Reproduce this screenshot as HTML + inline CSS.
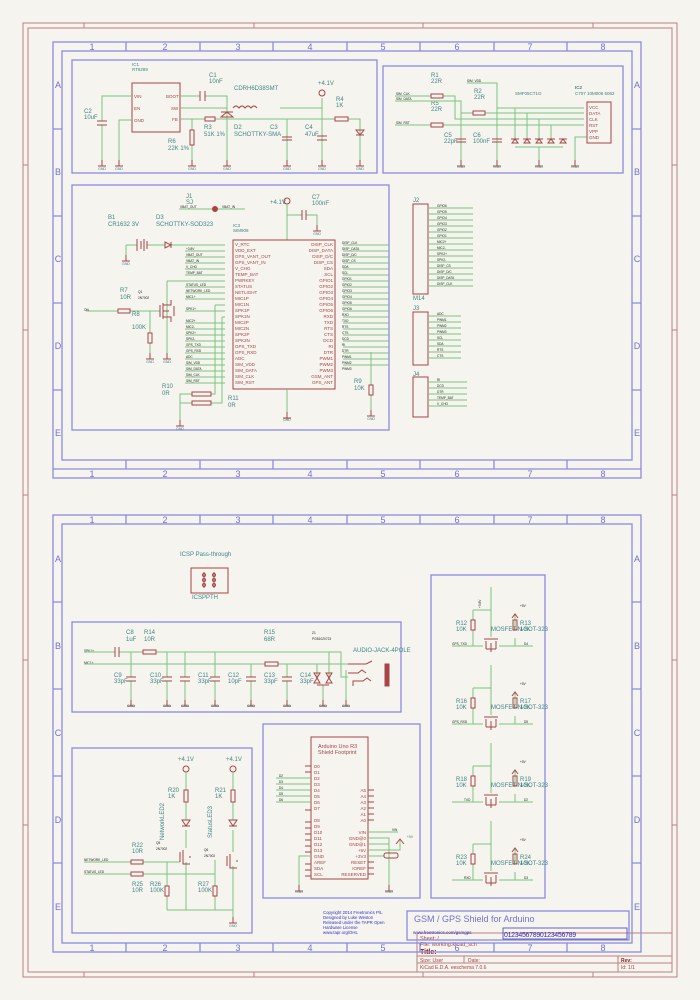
<!DOCTYPE html>
<html><head><meta charset="utf-8"><style>
html,body{margin:0;padding:0;background:#f5f4ef;}
svg{display:block;font-family:"Liberation Sans",sans-serif;}
.w{stroke:#7cc47c;stroke-width:1;fill:none}
.r{stroke:#a84444;stroke-width:1;fill:none}
.rf{stroke:#a84444;fill:#a84444}
.pf{stroke:#c08080;stroke-width:1;fill:none}
.b{stroke:#8a8ae2;stroke-width:1.3;fill:none}
.bt{fill:#7070d0;font-size:9px;text-anchor:middle}
.t{fill:#3f8585;font-size:6px}
.s{fill:#222;font-size:3.2px}
.g{fill:#3f8585;font-size:3.5px;text-anchor:middle}
.p{fill:#a84444;font-size:4.5px}
.ic{fill:#3f7f7f;font-size:4.5px}
</style></head><body>
<svg width="700" height="1000" viewBox="0 0 700 1000" xmlns="http://www.w3.org/2000/svg">
<defs>
<symbol id="gnd" overflow="visible"><path d="M0,0V6M-4,6H4" stroke="#a84444" stroke-width="1"/></symbol>
</defs>
<!-- page frame -->
<rect class="pf" x="23" y="23" width="654" height="954"/>
<rect class="pf" x="28" y="28" width="644" height="944"/>
<path class="pf" d="M84,23v5M254,23v5M423,23v5M593,23v5M23,165h5M23,330h5M23,495h5M23,660h5M23,825h5M672,165h5M672,330h5M672,495h5M672,660h5M672,825h5M84,972v5M254,972v5M423,972v5M593,972v5"/>
<!-- title block -->
<path class="pf" d="M417,933H672M417,956H672M417,963H672M417,933V972M464,956V963M618,956V972"/>
<text x="420" y="940" fill="#a84444" font-size="5.5">Sheet: /</text>
<text x="420" y="946" fill="#a84444" font-size="5.5">File: working.kicad_sch</text>
<text x="420" y="954" fill="#8a2020" font-size="7" font-weight="bold">Title:</text>
<text x="420" y="962" fill="#a84444" font-size="5">Size: User</text>
<text x="468" y="962" fill="#a84444" font-size="5">Date:</text>
<text x="621" y="962" fill="#8a2020" font-size="5" font-weight="bold">Rev:</text>
<text x="420" y="969" fill="#a84444" font-size="5">KiCad E.D.A.  eeschema 7.0.6</text>
<text x="621" y="969" fill="#a84444" font-size="5">Id: 1/1</text>

<!-- FRAME 1 -->
<rect class="b" x="53" y="42" width="588" height="436"/>
<rect class="b" x="62" y="51" width="570" height="409"/>
<path class="b" d="M126,42v9M200,42v9M273,42v9M347,42v9M420,42v9M494,42v9M567,42v9M126,460v9M200,460v9M273,460v9M347,460v9M420,460v9M494,460v9M567,460v9M53,129h9M53,216h9M53,303h9M53,390h9M632,129h9M632,216h9M632,303h9M632,390h9"/>
<path class="b" d="M53,469H641"/>
<text class="bt" x="92" y="50">1</text><text class="bt" x="165" y="50">2</text><text class="bt" x="238" y="50">3</text><text class="bt" x="310" y="50">4</text><text class="bt" x="383" y="50">5</text><text class="bt" x="457" y="50">6</text><text class="bt" x="530" y="50">7</text><text class="bt" x="603" y="50">8</text>
<text class="bt" x="92" y="477">1</text><text class="bt" x="165" y="477">2</text><text class="bt" x="238" y="477">3</text><text class="bt" x="310" y="477">4</text><text class="bt" x="383" y="477">5</text><text class="bt" x="457" y="477">6</text><text class="bt" x="530" y="477">7</text><text class="bt" x="603" y="477">8</text>
<text class="bt" x="58" y="88">A</text><text class="bt" x="58" y="175">B</text><text class="bt" x="58" y="262">C</text><text class="bt" x="58" y="349">D</text><text class="bt" x="58" y="436">E</text>
<text class="bt" x="637" y="88">A</text><text class="bt" x="637" y="175">B</text><text class="bt" x="637" y="262">C</text><text class="bt" x="637" y="349">D</text><text class="bt" x="637" y="436">E</text>

<!-- Box A -->
<rect class="b" x="72" y="60" width="305" height="113"/>
<rect class="r" x="132" y="83" width="48" height="49"/>
<text class="ic" x="132" y="66" font-size="4">IC1</text><text class="ic" x="132" y="71" font-size="4">RT8289</text>
<text class="p" x="134" y="98">VIN</text><text class="p" x="134" y="110">EN</text><text class="p" x="134" y="122">GND</text>
<text class="p" x="166" y="98">BOOT</text><text class="p" x="171" y="110">SW</text><text class="p" x="172" y="121">FB</text>
<path class="w" d="M132,96H102V121M102,125V160M132,120H119V160M180,96H200M205,96H227V160M180,108H227M280,108H322V160M180,119H205M215,119H335M348,119H360V160M192,119V130M192,145V160M287,119V160M322,98V108"/>
<path class="r" d="M97,121h10M97,125h10M200,91v10M205,91v10M221,117l6,-5 6,5zM221,112h12"/>
<rect class="r" x="205" y="117" width="10" height="4"/><rect class="r" x="335" y="117" width="13" height="4"/><rect class="r" x="190" y="130" width="4" height="15"/>
<path class="r" d="M233,108q3,-4 6,0q3,-4 6,0q3,-4 6,0q3,-4 6,0"/>
<path class="r" d="M282,137h10M282,140h10M317,136h10M317,140h10M356,130h8l-4,5zM356,135h8" stroke-width="1.5"/>
<circle class="r" cx="322" cy="93" r="3"/>
<use href="#gnd" x="102" y="160"/><use href="#gnd" x="119" y="160"/><use href="#gnd" x="192" y="160"/><use href="#gnd" x="227" y="160"/><use href="#gnd" x="287" y="160"/><use href="#gnd" x="322" y="160"/><use href="#gnd" x="360" y="160"/>
<text class="g" x="102" y="170">GND</text><text class="g" x="119" y="170">GND</text><text class="g" x="192" y="170">GND</text><text class="g" x="227" y="170">GND</text><text class="g" x="287" y="170">GND</text><text class="g" x="322" y="170">GND</text><text class="g" x="360" y="170">GND</text>
<text class="t" x="84" y="113">C2</text><text class="t" x="84" y="119">10uF</text>
<text class="t" x="209" y="77">C1</text><text class="t" x="209" y="83">10nF</text>
<text class="t" x="234" y="90">CDRH6D38SMT</text>
<text class="t" x="318" y="85">+4.1V</text>
<text class="t" x="336" y="101">R4</text><text class="t" x="336" y="107">1K</text>
<text class="t" x="204" y="129">R3</text><text class="t" x="204" y="136">51K 1%</text>
<text class="t" x="234" y="129">D2</text><text class="t" x="234" y="136">SCHOTTKY-SMA</text>
<text class="t" x="270" y="129">C3</text><text class="t" x="305" y="129">C4</text><text class="t" x="305" y="136">47uF</text>
<text class="t" x="168" y="143">R6</text><text class="t" x="168" y="150">22K 1%</text>

<!-- Box B -->
<rect class="b" x="383" y="66" width="240" height="107"/>
<text class="t" x="431" y="77">R1</text><text class="t" x="431" y="83">22R</text>
<text class="t" x="474" y="93">R2</text><text class="t" x="474" y="99">22R</text>
<text class="t" x="431" y="105">R5</text><text class="t" x="431" y="111">22R</text>
<text class="t" x="444" y="137">C5</text><text class="t" x="444" y="143">22pF</text>
<text class="t" x="473" y="137">C6</text><text class="t" x="473" y="143">100nF</text>
<text class="ic" x="515" y="95" font-size="4">SMF05CT1G</text>
<text class="ic" x="575" y="89" font-size="4" font-weight="bold">IC2</text><text class="ic" x="575" y="95" font-size="4">C707 10M006 5062</text>
<text class="s" x="396" y="95">SIM_CLK</text><text class="s" x="396" y="100">SIM_DATA</text><text class="s" x="396" y="124">SIM_RST</text><text class="s" x="467" y="82">SIM_VDD</text>
<path class="w" d="M395,96H431M443,96H455V119H584M395,101H461V160M461,113H473M485,113H584M395,125H431M443,125H584M467,83H497V160M497,108H584M515,108V140M527,113V140M539,119V140M551,125V140M587,137H575V160M515,147H563M539,147V160"/>
<rect class="r" x="431" y="94" width="12" height="4"/><rect class="r" x="431" y="123" width="12" height="4"/><rect class="r" x="473" y="111" width="12" height="4"/>
<path class="r" d="M456,139h10M456,142h10M492,139h10M492,142h10" stroke-width="1.5"/>
<path class="r" d="M512,143l3,-4 3,4zM524,143l3,-4 3,4zM536,143l3,-4 3,4zM548,143l3,-4 3,4zM560,143l3,-4 3,4zM511,139h8M523,139h8M535,139h8M547,139h8M559,139h8"/>
<rect class="r" x="587" y="102" width="24" height="41"/>
<text class="p" x="589" y="109">VCC</text><text class="p" x="589" y="115">DATA</text><text class="p" x="589" y="121">CLK</text><text class="p" x="589" y="127">RST</text><text class="p" x="589" y="133">VPP</text><text class="p" x="589" y="139">GND</text>
<use href="#gnd" x="461" y="160"/><use href="#gnd" x="497" y="160"/><use href="#gnd" x="539" y="160"/><use href="#gnd" x="575" y="160"/>
<text class="g" x="461" y="168">GND</text><text class="g" x="497" y="168">GND</text><text class="g" x="539" y="168">GND</text><text class="g" x="575" y="168">GND</text>

<!-- J2 J3 J4 -->
<text class="t" x="413" y="202">J2</text><text class="t" x="413" y="300">M14</text>
<rect class="r" x="413" y="204" width="15" height="90"/>
<path class="w" d="M428,208H473M428,214H473M428,220H473M428,226H473M428,232H473M428,238H473M428,244H473M428,250H473M428,256H473M428,262H473M428,268H473M428,274H473M428,280H473M428,286H473"/>
<text class="s" x="437" y="207">GPIO6</text><text class="s" x="437" y="213">GPIO5</text><text class="s" x="437" y="219">GPIO4</text><text class="s" x="437" y="225">GPIO3</text><text class="s" x="437" y="231">GPIO2</text><text class="s" x="437" y="237">GPIO1</text><text class="s" x="437" y="243">MIC2+</text><text class="s" x="437" y="249">MIC2-</text><text class="s" x="437" y="255">SPK2+</text><text class="s" x="437" y="261">SPK2-</text><text class="s" x="437" y="267">DISP_CS</text><text class="s" x="437" y="273">DISP_D/C</text><text class="s" x="437" y="279">DISP_DATA</text><text class="s" x="437" y="285">DISP_CLK</text>
<text class="t" x="413" y="310">J3</text>
<rect class="r" x="413" y="312" width="15" height="53"/>
<path class="w" d="M428,316H461M428,322H461M428,328H461M428,334H461M428,340H461M428,346H461M428,352H461M428,358H461"/>
<text class="s" x="437" y="315">ADC</text><text class="s" x="437" y="321">PWM1</text><text class="s" x="437" y="327">PWM2</text><text class="s" x="437" y="333">PWM3</text><text class="s" x="437" y="339">SCL</text><text class="s" x="437" y="345">SDA</text><text class="s" x="437" y="351">RTS</text><text class="s" x="437" y="357">CTS</text>
<text class="t" x="413" y="376">J4</text>
<rect class="r" x="413" y="377" width="15" height="40"/>
<path class="w" d="M428,382H467M428,388H467M428,394H467M428,400H467M428,406H467"/>
<text class="s" x="437" y="381">RI</text><text class="s" x="437" y="387">DCD</text><text class="s" x="437" y="393">DTR</text><text class="s" x="437" y="399">TEMP_BAT</text><text class="s" x="437" y="405">V_CHG</text>

<!-- Box C -->
<rect class="b" x="72" y="185" width="317" height="245"/>
<text class="t" x="186" y="198">J1</text><text class="t" x="186" y="204">SJ</text>
<path class="w" d="M179,209H213M218,209H245"/><circle class="rf" cx="215" cy="209" r="2.5"/>
<text class="s" x="180" y="208">VBAT_OUT</text><text class="s" x="222" y="208">VBAT_IN</text>
<text class="t" x="108" y="219">B1</text><text class="t" x="108" y="226">CR1632 3V</text>
<text class="t" x="156" y="219">D3</text><text class="t" x="156" y="226">SCHOTTKY-SOD323</text>
<text class="t" x="270" y="204">+4.1V</text><circle class="r" cx="287" cy="201" r="3"/>
<text class="t" x="312" y="199">C7</text><text class="t" x="312" y="205">100nF</text>
<path class="w" d="M287,204V240M287,215H302M306,215H317V225"/><path class="r" d="M302,210v10M306,210v10" stroke-width="1.5"/>
<use href="#gnd" x="317" y="225"/><text class="g" x="317" y="235">GND</text>
<text class="ic" x="233" y="227" font-size="4">IC3</text><text class="ic" x="233" y="232" font-size="4">SIM908</text>
<rect class="r" x="233" y="240" width="102" height="149"/>
<path class="w" d="M126,245V255M126,245H137M147,245H165M171,245H225M185,251H225M185,257H225M185,263H225M185,269H225M185,275H225M167,281H225M167,281V353M185,287H225M185,293H225M185,299H225M215,305H225M215,305V394H211M185,311H225M222,317H225M222,317V403H211M185,323H225M185,329H225M185,335H225M185,341H225M185,347H225M185,353H225M185,359H225M185,365H225M185,371H225M185,377H225M185,383H225M192,394H180V420M192,403H180M86,311H118M130,311H150V333M150,311H160M150,343V353M287,389V420M343,245H389M343,251H389M343,257H389M343,263H389M343,269H389M343,275H389M343,281H389M343,287H389M343,293H389M343,299H389M343,305H389M343,311H389M343,317H389M343,323H389M343,329H389M343,335H389M343,341H389M343,347H389M343,353H389M343,359H389M343,365H389M371,352V385M371,395V410"/>
<path class="r" d="M137,239v12M141,241v8M144,239v12M147,241v8M165,242v6l6,-3zM171,242v6" stroke-width="1.3"/>
<rect class="r" x="118" y="309" width="12" height="4"/><rect class="r" x="148" y="333" width="4" height="10"/><rect class="r" x="192" y="392" width="19" height="4"/><rect class="r" x="192" y="401" width="19" height="4"/><rect class="r" x="369" y="385" width="4" height="10"/>
<path class="r" d="M160,305v12M163,303v16M163,311h6M163,305h8v-5M163,317h8v5M174,306v10"/>
<use href="#gnd" x="126" y="255"/><use href="#gnd" x="150" y="353"/><use href="#gnd" x="167" y="353"/><use href="#gnd" x="180" y="420"/><use href="#gnd" x="287" y="412"/><use href="#gnd" x="371" y="410"/>
<text class="g" x="126" y="265">GND</text><text class="g" x="150" y="363">GND</text><text class="g" x="167" y="363">GND</text><text class="g" x="180" y="430">GND</text><text class="g" x="287" y="421">GND</text><text class="g" x="371" y="420">GND</text>
<text class="s" x="84" y="311">ON</text>
<text class="t" x="120" y="292">R7</text><text class="t" x="120" y="299">10R</text>
<text class="t" x="132" y="316">R8</text><text class="t" x="132" y="329">100K</text>
<text class="s" x="138" y="293">Q1</text><text class="s" x="138" y="299">2N7002</text>
<text class="t" x="162" y="388">R10</text><text class="t" x="162" y="395">0R</text>
<text class="t" x="228" y="400">R11</text><text class="t" x="228" y="407">0R</text>
<text class="t" x="354" y="383">R9</text><text class="t" x="354" y="390">10K</text>
<g class="s">
<text x="186" y="250">+3.8V</text><text x="186" y="256">VBAT_OUT</text><text x="186" y="262">VBAT_IN</text><text x="186" y="268">V_CHG</text><text x="186" y="274">TEMP_BAT</text><text x="186" y="286">STATUS_LED</text><text x="186" y="292">NETWORK_LED</text><text x="186" y="298">MIC1+</text><text x="186" y="310">SPK1+</text><text x="186" y="322">MIC2+</text><text x="186" y="328">MIC2-</text><text x="186" y="334">SPK2+</text><text x="186" y="340">SPK2-</text><text x="186" y="346">GPS_TXD</text><text x="186" y="352">GPS_RXD</text><text x="186" y="358">ADC</text><text x="186" y="364">SIM_VDD</text><text x="186" y="370">SIM_DATA</text><text x="186" y="376">SIM_CLK</text><text x="186" y="382">SIM_RST</text>
<text x="342" y="244">DISP_CLK</text><text x="342" y="250">DISP_DATA</text><text x="342" y="256">DISP_D/C</text><text x="342" y="262">DISP_CS</text><text x="342" y="268">SDA</text><text x="342" y="274">SCL</text><text x="342" y="280">GPIO1</text><text x="342" y="286">GPIO2</text><text x="342" y="292">GPIO3</text><text x="342" y="298">GPIO4</text><text x="342" y="304">GPIO5</text><text x="342" y="310">GPIO6</text><text x="342" y="316">RXD</text><text x="342" y="322">TXD</text><text x="342" y="328">RTS</text><text x="342" y="334">CTS</text><text x="342" y="340">DCD</text><text x="342" y="346">RI</text><text x="342" y="352">DTR</text><text x="342" y="358">PWM1</text><text x="342" y="364">PWM2</text><text x="342" y="370">PWM3</text>
</g>
<g class="p" font-size="4.2">
<text x="235" y="246">V_RTC</text><text x="235" y="252">VDD_EXT</text><text x="235" y="258">GPS_VANT_OUT</text><text x="235" y="264">GPS_VANT_IN</text><text x="235" y="270">V_CHG</text><text x="235" y="276">TEMP_BAT</text><text x="235" y="282">PWRKEY</text><text x="235" y="288">STATUS</text><text x="235" y="294">NETLIGHT</text><text x="235" y="300">MIC1P</text><text x="235" y="306">MIC1N</text><text x="235" y="312">SPK1P</text><text x="235" y="318">SPK1N</text><text x="235" y="324">MIC2P</text><text x="235" y="330">MIC2N</text><text x="235" y="336">SPK2P</text><text x="235" y="342">SPK2N</text><text x="235" y="348">GPS_TXD</text><text x="235" y="354">GPS_RXD</text><text x="235" y="360">ADC</text><text x="235" y="366">SIM_VDD</text><text x="235" y="372">SIM_DATA</text><text x="235" y="378">SIM_CLK</text><text x="235" y="384">SIM_RST</text>
</g>
<g class="p" font-size="4.2" text-anchor="end">
<text x="333" y="246">DISP_CLK</text><text x="333" y="252">DISP_DATA</text><text x="333" y="258">DISP_D/C</text><text x="333" y="264">DISP_CS</text><text x="333" y="270">SDA</text><text x="333" y="276">SCL</text><text x="333" y="282">GPIO1</text><text x="333" y="288">GPIO2</text><text x="333" y="294">GPIO3</text><text x="333" y="300">GPIO4</text><text x="333" y="306">GPIO5</text><text x="333" y="312">GPIO6</text><text x="333" y="318">RXD</text><text x="333" y="324">TXD</text><text x="333" y="330">RTS</text><text x="333" y="336">CTS</text><text x="333" y="342">DCD</text><text x="333" y="348">RI</text><text x="333" y="354">DTR</text><text x="333" y="360">PWM1</text><text x="333" y="366">PWM2</text><text x="333" y="372">PWM3</text><text x="333" y="378">GSM_ANT</text><text x="333" y="384">GPS_ANT</text>
</g>

<!-- FRAME 2 -->
<rect class="b" x="53" y="515" width="588" height="437"/>
<rect class="b" x="62" y="524" width="570" height="419"/>
<path class="b" d="M126,515v9M200,515v9M273,515v9M347,515v9M420,515v9M494,515v9M567,515v9M126,943v9M200,943v9M273,943v9M347,943v9M420,943v9M494,943v9M567,943v9M53,602h9M53,689h9M53,776h9M53,863h9M632,602h9M632,689h9M632,776h9M632,863h9"/>
<text class="bt" x="92" y="523">1</text><text class="bt" x="165" y="523">2</text><text class="bt" x="238" y="523">3</text><text class="bt" x="310" y="523">4</text><text class="bt" x="383" y="523">5</text><text class="bt" x="457" y="523">6</text><text class="bt" x="530" y="523">7</text><text class="bt" x="603" y="523">8</text>
<text class="bt" x="92" y="951">1</text><text class="bt" x="165" y="951">2</text><text class="bt" x="238" y="951">3</text><text class="bt" x="310" y="951">4</text><text class="bt" x="383" y="951">5</text><text class="bt" x="457" y="951">6</text><text class="bt" x="530" y="951">7</text><text class="bt" x="603" y="951">8</text>
<text class="bt" x="58" y="562">A</text><text class="bt" x="58" y="649">B</text><text class="bt" x="58" y="736">C</text><text class="bt" x="58" y="823">D</text><text class="bt" x="58" y="910">E</text>
<text class="bt" x="637" y="562">A</text><text class="bt" x="637" y="649">B</text><text class="bt" x="637" y="736">C</text><text class="bt" x="637" y="823">D</text><text class="bt" x="637" y="910">E</text>

<!-- ICSP -->
<text class="t" x="180" y="556">ICSP Pass-through</text>
<rect class="r" x="191" y="568" width="37" height="25" stroke-width="1.3"/>
<path class="r" d="M204,572v16M214,572v16"/>
<circle class="r" cx="204" cy="575" r="1.5"/><circle class="r" cx="204" cy="580" r="1.5"/><circle class="r" cx="204" cy="585" r="1.5"/><circle class="r" cx="214" cy="575" r="1.5"/><circle class="r" cx="214" cy="580" r="1.5"/><circle class="r" cx="214" cy="585" r="1.5"/>
<text class="t" x="192" y="599">ICSPPTH</text>

<!-- Audio -->
<rect class="b" x="72" y="622" width="329" height="90"/>
<text class="t" x="126" y="634">C8</text><text class="t" x="126" y="641">1uF</text>
<text class="t" x="144" y="634">R14</text><text class="t" x="144" y="641">10R</text>
<text class="t" x="264" y="634">R15</text><text class="t" x="264" y="641">68R</text>
<text class="s" x="312" y="634">Z1</text><text class="s" x="312" y="640">PGB1020723</text>
<text class="t" x="353" y="652">AUDIO-JACK-4POLE</text>
<text class="s" x="84" y="652">SPK1+</text><text class="s" x="84" y="664">MIC1+</text>
<path class="w" d="M84,652H115M119,652H143M156,652H341V677H348M84,664H265M278,664H348M131,652V677M167,652V677M185,652V677M215,652V677M251,664V677M287,664V677M317,664V677M329,652V677M131,681V700M167,681V700M185,681V700M215,681V700M251,681V700M287,681V700M323,685V700M346,670V700"/>
<path class="r" d="M115,647v10M119,647v10M126,677h10M126,681h10M162,677h10M162,681h10M180,677h10M180,681h10M210,677h10M210,681h10M246,677h10M246,681h10M282,677h10M282,681h10" stroke-width="1.5"/>
<rect class="r" x="143" y="650" width="13" height="4"/><rect class="r" x="265" y="662" width="13" height="4"/>
<path class="r" d="M314,673l3,5 3,-5zM314,683l3,-5 3,5zM326,673l3,5 3,-5zM326,683l3,-5 3,5zM317,685h12M348,664h18l6,-3M348,673h10l4,-3 4,3M353,686v-5h10l4,-3 4,3"/>
<rect class="rf" x="385" y="664" width="4" height="22"/>
<g>
<use href="#gnd" x="131" y="700"/><use href="#gnd" x="167" y="700"/><use href="#gnd" x="185" y="700"/><use href="#gnd" x="215" y="700"/><use href="#gnd" x="251" y="700"/><use href="#gnd" x="287" y="700"/><use href="#gnd" x="323" y="700"/><use href="#gnd" x="346" y="700"/>
</g>
<text class="g" x="131" y="707">GND</text><text class="g" x="167" y="707">GND</text><text class="g" x="185" y="707">GND</text><text class="g" x="215" y="707">GND</text><text class="g" x="251" y="707">GND</text><text class="g" x="287" y="707">GND</text><text class="g" x="323" y="707">GND</text><text class="g" x="346" y="707">GND</text>
<text class="t" x="114" y="677">C9</text><text class="t" x="114" y="683">33pF</text>
<text class="t" x="150" y="677">C10</text><text class="t" x="150" y="683">33pF</text>
<text class="t" x="198" y="677">C11</text><text class="t" x="198" y="683">33pF</text>
<text class="t" x="228" y="677">C12</text><text class="t" x="228" y="683">10pF</text>
<text class="t" x="264" y="677">C13</text><text class="t" x="264" y="683">33pF</text>
<text class="t" x="300" y="677">C14</text><text class="t" x="300" y="683">33pF</text>

<!-- LED box -->
<rect class="b" x="72" y="748" width="180" height="185"/>
<text class="t" x="178" y="761">+4.1V</text><text class="t" x="226" y="761">+4.1V</text>
<circle class="r" cx="186" cy="769" r="3"/><circle class="r" cx="233" cy="769" r="3"/>
<path class="w" d="M186,772V790M186,802V820M186,830V848M186,862V910M233,772V790M233,802V820M233,830V852M233,866V917M84,862H131M143,862H180M167,862V886M167,896V910M84,874H131M143,874H215V860M215,874V886M215,896V910M167,910H233"/>
<rect class="r" x="184" y="790" width="4" height="12"/><rect class="r" x="231" y="790" width="4" height="12"/>
<path class="r" d="M182,820h8l-4,6zM182,826h8M229,820h8l-4,6zM229,826h8"/>
<rect class="r" x="131" y="860" width="12" height="4"/><rect class="r" x="131" y="872" width="12" height="4"/><rect class="r" x="165" y="886" width="4" height="10"/><rect class="r" x="213" y="886" width="4" height="10"/>
<path class="r" d="M180,852v10M183,850v14h7M190,856v2M227,856v10M230,854v14h7M237,860v2"/>
<use href="#gnd" x="233" y="917"/><text class="g" x="233" y="927">GND</text>
<text class="t" x="168" y="792">R20</text><text class="t" x="168" y="798">1K</text>
<text class="t" x="215" y="792">R21</text><text class="t" x="215" y="798">1K</text>
<text class="t" x="132" y="847">R22</text><text class="t" x="132" y="853">10R</text>
<text class="t" x="132" y="886">R25</text><text class="t" x="132" y="892">10R</text>
<text class="t" x="150" y="886">R26</text><text class="t" x="150" y="892">100K</text>
<text class="t" x="198" y="886">R27</text><text class="t" x="198" y="892">100K</text>
<text class="s" x="156" y="844">Q5</text><text class="s" x="156" y="850">2N7002</text>
<text class="s" x="204" y="851">Q6</text><text class="s" x="204" y="857">2N7002</text>
<text class="s" x="84" y="861">NETWORK_LED</text><text class="s" x="84" y="873">STATUS_LED</text>
<text class="t" transform="translate(164,840) rotate(-90)">NetworkLED2</text>
<text class="t" transform="translate(212,838) rotate(-90)">StatusLED3</text>

<!-- Arduino -->
<rect class="b" x="263" y="724" width="157" height="174"/>
<rect class="r" x="311" y="737" width="57" height="142"/>
<text fill="#a84444" font-size="5.5" x="318" y="748">Arduino Uno R3</text><text fill="#a84444" font-size="5.5" x="318" y="754">Shield Footprint</text>
<g class="p" font-size="4.2"><text x="314" y="768">D0</text><text x="314" y="774">D1</text><text x="314" y="780">D2</text><text x="314" y="786">D3</text><text x="314" y="792">D4</text><text x="314" y="798">D5</text><text x="314" y="804">D6</text><text x="314" y="810">D7</text><text x="314" y="822">D8</text><text x="314" y="828">D9</text><text x="314" y="834">D10</text><text x="314" y="840">D11</text><text x="314" y="846">D12</text><text x="314" y="852">D13</text><text x="314" y="858">GND</text><text x="314" y="864">AREF</text><text x="314" y="870">SDA</text><text x="314" y="876">SCL</text></g>
<g class="p" font-size="4.2" text-anchor="end"><text x="366" y="792">A5</text><text x="366" y="798">A4</text><text x="366" y="804">A3</text><text x="366" y="810">A2</text><text x="366" y="816">A1</text><text x="366" y="822">A0</text><text x="366" y="834">VIN</text><text x="366" y="840">GND@0</text><text x="366" y="846">GND@1</text><text x="366" y="852">+5V</text><text x="366" y="858">+3V3</text><text x="366" y="864">RESET</text><text x="366" y="870">IOREF</text><text x="366" y="876">RESERVED</text></g>
<path class="r" d="M305,766h6M305,772h6M305,810h6M305,822h6M305,828h6M305,834h6M305,840h6M305,846h6M305,852h6M305,864h6M305,870h6M305,876h6M368,790h6M368,796h6M368,802h6M368,808h6M368,814h6M368,820h6M368,862h6M368,868h6M368,874h6"/>
<path class="w" d="M276,778H311M276,784H311M276,790H311M276,796H311M276,802H311M311,856H299V885M368,832H398M368,838H389V885M368,844H389M368,850H400V840M368,856H384"/>
<path class="r" d="M396,844l4,-5 4,5"/><rect class="r" x="384" y="853" width="14" height="5" rx="2"/>
<text class="s" x="279" y="777">D2</text><text class="s" x="279" y="783">D3</text><text class="s" x="279" y="789">D4</text><text class="s" x="279" y="795">D5</text><text class="s" x="279" y="801">D6</text><text class="s" x="392" y="831">VIN</text>
<text class="g" x="410" y="838">+5V</text>
<use href="#gnd" x="299" y="885"/><use href="#gnd" x="389" y="885"/><text class="g" x="299" y="893">GND</text><text class="g" x="389" y="893">GND</text>

<!-- MOSFET box -->
<rect class="b" x="431" y="575" width="114" height="323"/>
<g id="mos">
<path class="w" d="M491,587V637M473,610H491M473,610V620M473,630V646M452,646H483M499,646H533M515,638V646M515,615V630"/>
<rect class="r" x="471" y="620" width="4" height="10"/>
<path class="r" d="M484,639h14M486,641v8M496,641v8M486,649h10M491,643v9M512,618l3,-4 3,4"/>
<text class="t" x="456" y="625">R12</text><text class="t" x="456" y="631">10K</text>
<text class="t" x="520" y="625">R13</text><text class="t" x="520" y="631">10K</text>
<text class="t" x="491" y="631">MOSFET-N-SOT-323</text>
<rect class="r" x="513" y="620" width="4" height="10"/>
<text class="s" x="520" y="607">+5V</text><text class="s" x="477" y="608" transform="rotate(-90,479,606)">+3.8V</text>
</g>
<text class="s" x="452" y="645">GPS_TXD</text><text class="s" x="524" y="645">D4</text>
<g transform="translate(0,78)">
<path class="w" d="M491,587V637M473,610H491M473,610V620M473,630V646M452,646H483M499,646H533M515,638V646M515,615V630"/><rect class="r" x="471" y="620" width="4" height="10"/><rect class="r" x="513" y="620" width="4" height="10"/>
<path class="r" d="M484,639h14M486,641v8M496,641v8M486,649h10M491,643v9M512,618l3,-4 3,4"/>
<text class="t" x="456" y="625">R16</text><text class="t" x="456" y="631">10K</text><text class="t" x="520" y="625">R17</text><text class="t" x="520" y="631">10K</text><text class="t" x="491" y="631">MOSFET-N-SOT-323</text><text class="s" x="520" y="607">+5V</text>
<text class="s" x="452" y="645">GPS_RXD</text><text class="s" x="524" y="645">D5</text>
</g>
<g transform="translate(0,156)">
<path class="w" d="M491,587V637M473,610H491M473,610V620M473,630V646M452,646H483M499,646H533M515,638V646M515,615V630"/><rect class="r" x="471" y="620" width="4" height="10"/><rect class="r" x="513" y="620" width="4" height="10"/>
<path class="r" d="M484,639h14M486,641v8M496,641v8M486,649h10M491,643v9M512,618l3,-4 3,4"/>
<text class="t" x="456" y="625">R18</text><text class="t" x="456" y="631">10K</text><text class="t" x="520" y="625">R19</text><text class="t" x="520" y="631">10K</text><text class="t" x="491" y="631">MOSFET-N-SOT-323</text><text class="s" x="520" y="607">+5V</text>
<text class="s" x="464" y="645">TXD</text><text class="s" x="524" y="645">D2</text>
</g>
<g transform="translate(0,234)">
<path class="w" d="M491,587V637M473,610H491M473,610V620M473,630V646M452,646H483M499,646H533M515,638V646M515,615V630"/><rect class="r" x="471" y="620" width="4" height="10"/><rect class="r" x="513" y="620" width="4" height="10"/>
<path class="r" d="M484,639h14M486,641v8M496,641v8M486,649h10M491,643v9M512,618l3,-4 3,4"/>
<text class="t" x="456" y="625">R23</text><text class="t" x="456" y="631">10K</text><text class="t" x="520" y="625">R24</text><text class="t" x="520" y="631">10K</text><text class="t" x="491" y="631">MOSFET-N-SOT-323</text><text class="s" x="520" y="607">+5V</text>
<text class="s" x="464" y="645">RXD</text><text class="s" x="524" y="645">D3</text>
</g>

<!-- copyright + title -->
<g fill="#3030c0" font-size="4.3"><text x="323" y="914">Copyright 2014 Freetronics P/L</text><text x="323" y="919">Designed by Luke Weston</text><text x="323" y="924">Released under the TAPR Open</text><text x="323" y="929">Hardware License</text><text x="323" y="934">www.tapr.org/OHL</text></g>
<rect class="b" x="407" y="911" width="222" height="29"/>
<text x="414" y="922" fill="#7070d0" font-size="9">GSM / GPS Shield for Arduino</text>
<text x="413" y="934" fill="#3030c0" font-size="4.5">www.freetronics.com/gsmgps</text>
<rect x="503" y="928" width="124" height="11" fill="none" stroke="#4040c0" stroke-width="0.8"/>
<text x="504" y="937" fill="#3030c0" font-size="7" letter-spacing="-0.3">01234567890123456789</text>
</svg>
</body></html>
